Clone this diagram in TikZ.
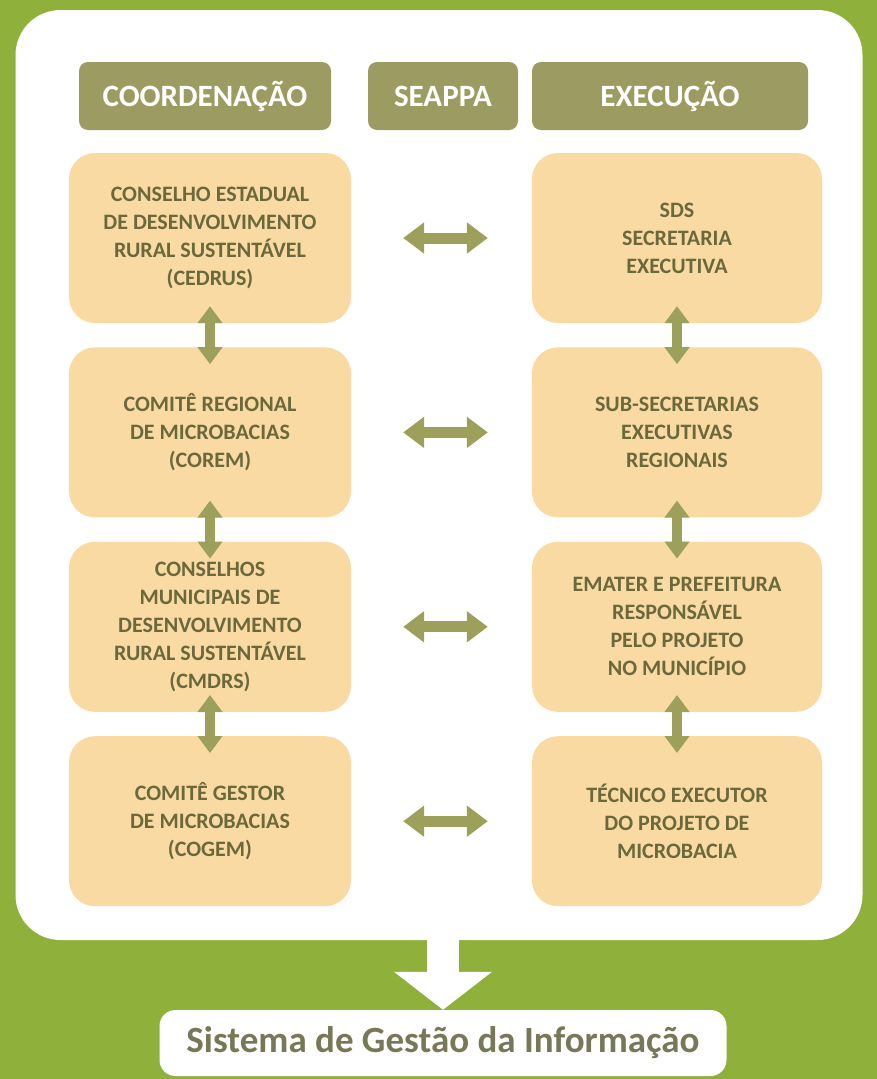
\documentclass[tikz,border=0pt]{standalone}
\usepackage{fontspec}
\setmainfont{Carlito}
\usepackage{xcolor}
\usetikzlibrary{arrows.meta, positioning}

\definecolor{fundo}{HTML}{8FB03B}
\definecolor{cabeca}{HTML}{9C9C62}
\definecolor{laranja}{HTML}{F9DAA2}
\definecolor{oliva}{HTML}{9CA05B}
\definecolor{texto}{HTML}{6B693C}
\definecolor{rodape}{HTML}{787859}

\tikzstyle{header} = [rectangle, rounded corners=9pt, minimum height=68pt, text centered, fill=cabeca, text=white, font=\fontsize{31}{33}\selectfont\bfseries]
\tikzstyle{orgao} = [rectangle, rounded corners=26pt, minimum height=170pt, align=center, fill=laranja, text=texto, font=\fontsize{22}{28}\selectfont\bfseries]
\tikzstyle{duplo} = [line width=11pt, draw=oliva, {Triangle[width=30pt,length=21pt]}-{Triangle[width=30pt,length=21pt]}]
\tikzstyle{vert} = [line width=10pt, draw=oliva, {Triangle[width=24pt,length=17pt]}-{Triangle[width=24pt,length=17pt]}, shorten <=-17pt, shorten >=-17pt]

\begin{document}
\begin{tikzpicture}[x=1pt, y=1pt, node distance=24pt]

% Fundo e painel
\fill[fundo] (0,0) rectangle (877,-1079);
\useasboundingbox (0,0) rectangle (877,-1079);
\node (painel) [rectangle, rounded corners=45pt, fill=white, minimum width=847pt, minimum height=930pt] at (439,-475) {};

% Cabecalhos
\node (coord) [header, minimum width=252pt] at (205,-96) {COORDENAÇÃO};
\node (seappa) [header, minimum width=150pt] at (443,-96) {SEAPPA};
\node (exec) [header, minimum width=276pt] at (670,-96) {EXECUÇÃO};

% Coordenacao
\node (cedrus) [orgao, minimum width=282pt] at (210,-238) {CONSELHO ESTADUAL\\DE DESENVOLVIMENTO\\RURAL SUSTENTÁVEL\\(CEDRUS)};
\node (corem) [orgao, minimum width=282pt, below=of cedrus] {COMITÊ REGIONAL\\DE MICROBACIAS\\(COREM)};
\node (cmdrs) [orgao, minimum width=282pt, below=of corem] {CONSELHOS\\MUNICIPAIS DE\\DESENVOLVIMENTO\\RURAL SUSTENTÁVEL\\(CMDRS)};
\node (cogem) [orgao, minimum width=282pt, below=of cmdrs] {COMITÊ GESTOR\\DE MICROBACIAS\\(COGEM)};

% Execucao
\node (sds) [orgao, minimum width=290pt] at (677,-238) {SDS\\SECRETARIA\\EXECUTIVA};
\node (subsec) [orgao, minimum width=290pt, below=of sds] {SUB-SECRETARIAS\\EXECUTIVAS\\REGIONAIS};
\node (emater) [orgao, minimum width=290pt, below=of subsec] {EMATER E PREFEITURA\\RESPONSÁVEL\\PELO PROJETO\\NO MUNICÍPIO};
\node (tecnico) [orgao, minimum width=290pt, below=of emater] {TÉCNICO EXECUTOR\\DO PROJETO DE\\MICROBACIA};

% Sistema de informacao
\node (sgi) [rectangle, rounded corners=16pt, fill=white, minimum width=567pt, minimum height=66pt, text=rodape, font=\fontsize{37}{39}\selectfont\bfseries] at (443,-1043) {Sistema de Gestão da Informação};

% Setas
\draw [duplo, shorten <=52pt, shorten >=44pt] (cedrus) -- (sds);
\draw [duplo, shorten <=52pt, shorten >=44pt] (corem) -- (subsec);
\draw [duplo, shorten <=52pt, shorten >=44pt] (cmdrs) -- (emater);
\draw [duplo, shorten <=52pt, shorten >=44pt] (cogem) -- (tecnico);
\draw [vert] (cedrus) -- (corem);
\draw [vert] (corem) -- (cmdrs);
\draw [vert] (cmdrs) -- (cogem);
\draw [vert] (sds) -- (subsec);
\draw [vert] (subsec) -- (emater);
\draw [vert] (emater) -- (tecnico);
\draw [line width=32pt, draw=white, -{Triangle[width=96pt,length=38pt]}] (painel.south -| sgi) -- (sgi.north);

\end{tikzpicture}
\end{document}
